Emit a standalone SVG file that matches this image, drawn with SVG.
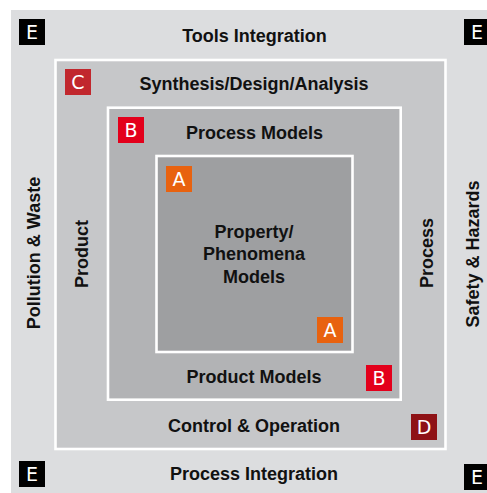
<svg xmlns="http://www.w3.org/2000/svg" width="487" height="493" viewBox="0 0 487 493">
<style>
.lbl{font-family:"Liberation Sans",Arial,sans-serif;font-weight:bold;font-size:18px;fill:#111;text-anchor:middle}
.bt{font-family:"DejaVu Sans","Liberation Sans",sans-serif;font-size:19px;fill:#fff;text-anchor:middle}
.frame{stroke:#fff;stroke-width:2.6}
</style>
<rect width="487" height="493" fill="#fff"/>
<g id="layerE">
<rect x="11" y="10" width="476" height="483" fill="#dcdddf"/>
<text class="lbl" x="254.5" y="42">Tools Integration</text>
<text class="lbl" x="254" y="480">Process Integration</text>
<text class="lbl" transform="translate(40,253) rotate(-90)">Pollution &amp; Waste</text>
<text class="lbl" transform="translate(479,254) rotate(-90)">Safety &amp; Hazards</text>
</g>
<g id="layerC">
<rect class="frame" x="55.5" y="60" width="390" height="389" fill="#c6c7c9"/>
<text class="lbl" x="254" y="90">Synthesis/Design/Analysis</text>
<text class="lbl" x="254" y="432">Control &amp; Operation</text>
<text class="lbl" transform="translate(88,254) rotate(-90)">Product</text>
<text class="lbl" transform="translate(433,253) rotate(-90)">Process</text>
</g>
<g id="layerB">
<rect class="frame" x="108" y="107.7" width="292.7" height="292" fill="#b2b3b5"/>
<text class="lbl" x="254.5" y="139">Process Models</text>
<text class="lbl" x="254" y="383">Product Models</text>
</g>
<g id="layerA">
<rect class="frame" x="156.5" y="156" width="196" height="196" fill="#9e9fa1"/>
<text class="lbl" x="254" y="238">Property/</text>
<text class="lbl" x="254" y="260">Phenomena</text>
<text class="lbl" x="254" y="283">Models</text>
</g>
<g id="badges">
<g id="badgeE1"><rect x="19" y="19" width="26" height="26" fill="#000"/><text class="bt" x="32" y="39">E</text></g>
<g id="badgeE2"><rect x="464" y="19" width="26" height="26" fill="#000"/><text class="bt" x="477" y="39">E</text></g>
<g id="badgeE3"><rect x="19" y="461" width="26" height="26" fill="#000"/><text class="bt" x="32" y="481">E</text></g>
<g id="badgeE4"><rect x="464" y="464" width="26" height="26" fill="#000"/><text class="bt" x="477" y="484">E</text></g>
<g id="badgeC"><rect x="65" y="69" width="26" height="26" fill="#c1272d"/><text class="bt" x="78" y="89">C</text></g>
<g id="badgeB1"><rect x="118" y="117" width="26" height="26" fill="#e3001b"/><text class="bt" x="131" y="137">B</text></g>
<g id="badgeB2"><rect x="366" y="365" width="26" height="26" fill="#e3001b"/><text class="bt" x="379" y="385">B</text></g>
<g id="badgeA1"><rect x="166" y="166" width="26" height="26" fill="#e8620f"/><text class="bt" x="179" y="186">A</text></g>
<g id="badgeA2"><rect x="317" y="317" width="26" height="26" fill="#e8620f"/><text class="bt" x="330" y="337">A</text></g>
<g id="badgeD"><rect x="411" y="414" width="26" height="26" fill="#8e1216"/><text class="bt" x="424" y="434">D</text></g>
</g>
</svg>
